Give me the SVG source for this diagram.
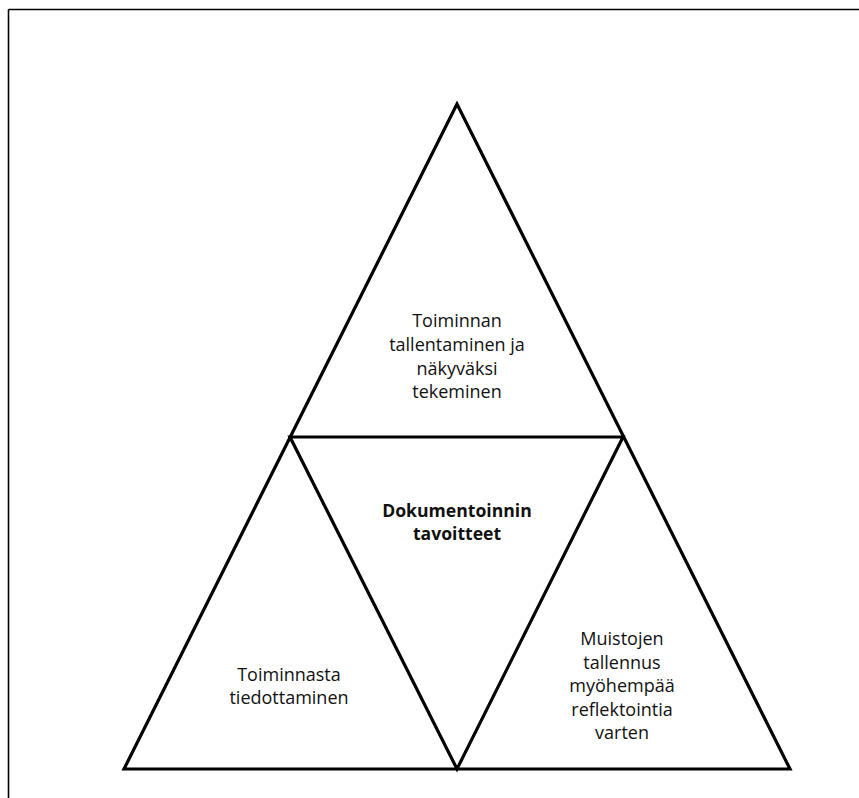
<svg xmlns="http://www.w3.org/2000/svg" width="859" height="798" viewBox="0 0 859 798">
<style>
.frame{stroke:#000;stroke-width:1.6;fill:none}
.tri{fill:none;stroke:#000;stroke-width:3.2;stroke-linejoin:miter}
.t{font-family:"Open Sans","Liberation Sans",sans-serif;font-size:18px;fill:#111;text-anchor:middle}
.b{font-weight:bold;font-size:17.6px}
</style>
<rect width="859" height="798" fill="#fff"/>
<g id="frame">
<line class="frame" x1="8.5" y1="9.5" x2="859" y2="9.5"/>
<line class="frame" x1="8.5" y1="9.5" x2="8.5" y2="798"/>
</g>
<g id="connectors">
<polygon class="tri" points="457,104 124,769 790,769"/>
<polygon class="tri" points="290,437 623,437 457,769"/>
</g>
<g id="top">
<text class="t" x="457" y="327">Toiminnan</text>
<text class="t" x="457" y="351">tallentaminen ja</text>
<text class="t" x="457" y="375">näkyväksi</text>
<text class="t" x="457" y="398">tekeminen</text>
</g>
<g id="center">
<text class="t b" x="457" y="517">Dokumentoinnin</text>
<text class="t b" x="457" y="540">tavoitteet</text>
</g>
<g id="left">
<text class="t" x="289" y="681">Toiminnasta</text>
<text class="t" x="289" y="704">tiedottaminen</text>
</g>
<g id="right">
<text class="t" x="622" y="645">Muistojen</text>
<text class="t" x="622" y="669">tallennus</text>
<text class="t" x="622" y="692">myöhempää</text>
<text class="t" x="622" y="716">reflektointia</text>
<text class="t" x="622" y="739">varten</text>
</g>
</svg>
